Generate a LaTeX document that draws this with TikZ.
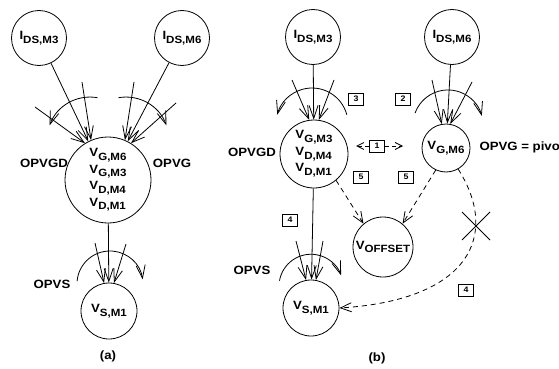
\documentclass[tikz,border=0pt]{standalone}
\usepackage{fontspec}
\setmainfont{Liberation Sans}[FakeStretch=1.1]
\usetikzlibrary{arrows.meta}
\newcommand\sbx[2]{#1\raisebox{-3.8pt}{\fontsize{10.5}{10}\selectfont#2}}
\begin{document}
\begin{tikzpicture}[x=1pt,y=-1pt,
  font=\fontsize{12}{16.5}\selectfont\bfseries,
  lw/.style={line width=0.8pt},
  st/.style={lw, draw, circle, inner sep=0pt},
  arr/.style={lw, -{Straight Barb[length=13pt,width=9pt]}},
  darr/.style={lw, dashed, dash pattern=on 5pt off 4pt, -{Straight Barb[length=11pt,width=9pt]}},
  sdarr/.style={lw, dashed, dash pattern=on 4pt off 3pt, -{Straight Barb[length=7pt,width=7pt]}},
  num/.style={draw, lw, inner sep=0pt, minimum width=15pt, minimum height=12pt, font=\fontsize{8}{8}\selectfont\bfseries},
]
\useasboundingbox (0,0) rectangle (559,369);

% ---------------- (a)
\node[st, minimum size=55pt] (ia3) at (39,38) {\sbx{I}{DS,M3}};
\node[st, minimum size=55pt] (ia6) at (182,38) {\sbx{I}{DS,M6}};
\node[st, minimum size=86pt, align=left] (ba) at (108,180) {\sbx{V}{G,M6}\\\sbx{V}{G,M3}\\\sbx{V}{D,M4}\\\sbx{V}{D,M1}};
\node[st, minimum size=56pt] (sa) at (109,311) {\sbx{V}{S,M1}};

\coordinate (a1) at (82,82);
\coordinate (a2) at (35,107);
\coordinate (a3) at (134,82);
\coordinate (a4) at (176,103);
\draw[arr] (ia3) -- (ba.117);
\draw[arr] (a1) -- (ba.113);
\draw[arr] (a2) -- (ba.122);
\draw[arr] (ia6) -- (ba.63);
\draw[arr] (a3) -- (ba.67);
\draw[arr] (a4) -- (ba.58);
\draw[arr] (97.5,97.7) arc[start angle=-80, end angle=-160, radius=43];
\draw[arr] (118.5,97.7) arc[start angle=-100, end angle=-20, radius=43];
\node (la1) at (44,163) {OPVGD};
\node (la2) at (172,163) {OPVG};

\coordinate (a5) at (95,243);
\coordinate (a6) at (126,244);
\draw[arr] (ba) -- (sa);
\draw[arr] (a5) -- (sa.100);
\draw[arr] (a6) -- (sa.80);
\draw[arr] (77.1,281.1) arc[start angle=-175, end angle=-8, radius=33];
\node (la3) at (52,284) {OPVS};
\node (capa) at (108,356) {(a)};

% ---------------- (b)
\node[st, minimum size=55pt] (ib3) at (313,37) {\sbx{I}{DS,M3}};
\node[st, minimum size=55pt] (ib6) at (452,37) {\sbx{I}{DS,M6}};
\node[st, minimum size=68pt, align=left] (gb3) at (314,154) {\sbx{V}{G,M3}\\\sbx{V}{D,M4}\\\sbx{V}{D,M1}};
\node[st, minimum size=48pt] (gb6) at (446,148) {\sbx{V}{G,M6}};
\node[st, minimum size=60pt] (vo) at (383,247) {\sbx{V}{OFFSET}};
\node[st, minimum size=56pt] (sb) at (311,308) {\sbx{V}{S,M1}};

\coordinate (b1) at (292,80);
\coordinate (b2) at (334,80);
\draw[arr] (ib3) -- (gb3);
\draw[arr] (b1) -- (gb3.98);
\draw[arr] (b2) -- (gb3.82);
\draw[arr] (346.8,114.7) arc[start angle=-15, end angle=-165, radius=36];
\node (lb1) at (252,152) {OPVGD};

\coordinate (b3) at (432,80);
\coordinate (b4) at (472,82);
\draw[arr] (ib6) -- (gb6);
\draw[arr] (b3) -- (gb6.100);
\draw[arr] (b4) -- (gb6.80);
\draw[arr] (415.1,113) arc[start angle=-160, end angle=-15, radius=35];
\node[anchor=west] (lb2) at (476,147) {OPVG = pivo};

\node[num] (n1) at (377,146) {1};
\coordinate (l1) at (356,146);
\coordinate (r1) at (403,146);
\draw[sdarr] (n1) -- (l1);
\draw[sdarr] (n1) -- (r1);
\node[num] (n3) at (356,99) {3};
\node[num] (n2) at (403,99) {2};
\node[num] (n5a) at (361,177) {5};
\node[num] (n5b) at (406,177) {5};
\node[num] (n4a) at (290,220) {4};
\node[num] (n4b) at (466,290) {4};

\draw[darr] (gb3.-50) -- (vo.130);
\draw[darr] (gb6.-115) -- (vo.50);
\draw[darr] (gb6.-60) .. controls (500,235) and (470,300) .. (sb.east);
\draw[lw] (462,212) -- (490,240);
\draw[lw] (462,240) -- (490,212);

\coordinate (b5) at (296,241);
\coordinate (b6) at (323,241);
\draw[arr] (gb3) -- (sb);
\draw[arr] (b5) -- (sb.100);
\draw[arr] (b6) -- (sb.80);
\draw[arr] (279.5,280.7) arc[start angle=-170, end angle=-20, radius=32];
\node (lb3) at (252,270) {OPVS};
\node (capb) at (377,358) {(b)};
\end{tikzpicture}
\end{document}
